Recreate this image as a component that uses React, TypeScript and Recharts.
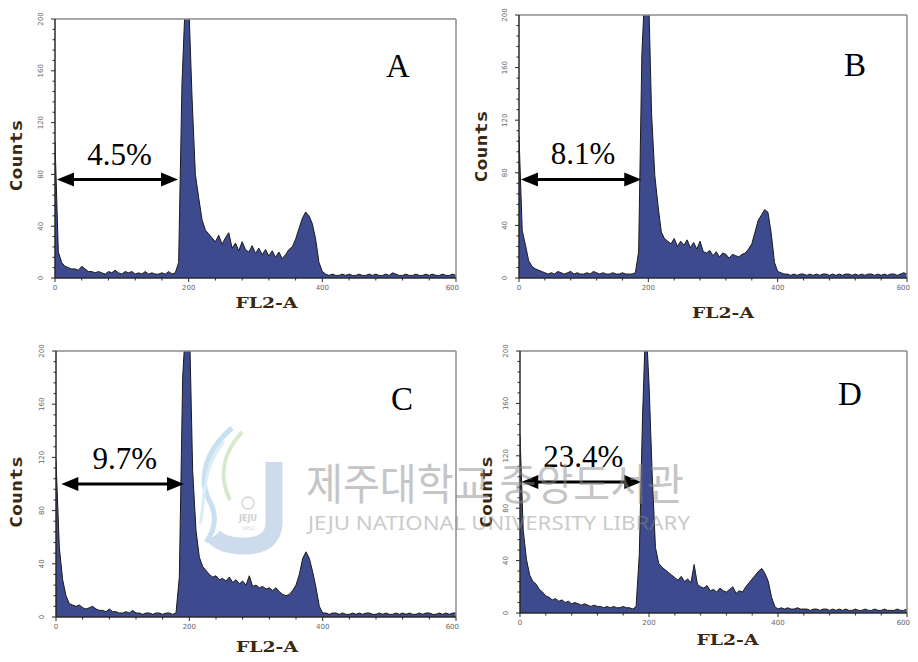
import { AreaChart, Area, XAxis, YAxis, ReferenceLine } from 'recharts'

// FL2-A histograms, one count per 5-channel bin from 0 to 600
const BIN = 5

const countsA = [
  105, 20, 12, 9, 8, 7, 7, 6, 9, 7,
  5, 5, 4, 5, 4, 3, 5, 4, 6, 4,
  3, 5, 4, 5, 3, 4, 3, 5, 3, 4,
  3, 3, 4, 3, 5, 3, 4, 12, 150, 215,
  215, 140, 80, 62, 45, 37, 34, 31, 28, 33,
  26, 31, 35, 23, 27, 21, 28, 22, 20, 25,
  19, 23, 18, 22, 17, 21, 16, 20, 15, 18,
  22, 24, 30, 38, 46, 51, 48, 42, 30, 12,
  5, 3, 2, 3, 2, 2, 3, 2, 3, 2,
  2, 3, 2, 2, 3, 2, 3, 2, 2, 3,
  2, 4, 3, 2, 2, 3, 2, 2, 3, 2,
  2, 3, 2, 3, 2, 2, 3, 2, 2, 3,
  2,
]

const countsB = [
  108, 36, 25, 13, 9, 7, 6, 5, 4, 3,
  4, 3, 5, 4, 3, 4, 5, 3, 4, 3,
  3, 4, 3, 5, 4, 3, 4, 3, 3, 4,
  3, 3, 4, 3, 3, 3, 4, 20, 170, 225,
  225, 125, 78, 55, 35, 30, 28, 26, 30, 24,
  28, 25, 29, 23, 27, 22, 28, 20, 19, 21,
  17, 20, 16, 19, 18, 15, 18, 17, 16, 18,
  19, 22, 26, 35, 44, 48, 52, 50, 34, 12,
  5, 4, 3, 3, 2, 3, 2, 3, 3, 2,
  3, 2, 3, 2, 3, 3, 2, 3, 2, 3,
  2, 3, 3, 2, 3, 2, 3, 2, 3, 3,
  2, 3, 2, 3, 2, 3, 3, 2, 3, 4,
  3,
]

const countsC = [
  118, 52, 28, 16, 10, 9, 8, 9, 7, 6,
  7, 8, 6, 5, 5, 4, 6, 4, 4, 3,
  3, 4, 3, 5, 3, 3, 2, 3, 3, 2,
  3, 3, 2, 3, 3, 2, 3, 30, 180, 225,
  225, 110, 65, 45, 38, 35, 32, 30, 31, 28,
  29, 27, 30, 26, 28, 25, 27, 24, 31, 23,
  24, 22, 23, 21, 22, 20, 22, 19, 17, 16,
  17, 20, 24, 32, 44, 49, 44, 34, 22, 8,
  3, 3, 2, 3, 3, 2, 3, 2, 2, 3,
  2, 3, 2, 3, 3, 2, 2, 3, 2, 3,
  2, 2, 3, 2, 3, 2, 3, 2, 2, 3,
  2, 3, 3, 2, 2, 3, 2, 3, 2, 3,
  3,
]

const countsD = [
  136, 63, 41, 29, 24, 22, 18, 16, 13, 12,
  10, 11, 9, 10, 8, 9, 7, 8, 7, 6,
  7, 6, 5, 6, 5, 5, 4, 5, 4, 5,
  4, 4, 5, 4, 4, 3, 5, 45, 150, 225,
  175, 105, 50, 38, 35, 33, 31, 29, 27, 25,
  28, 24, 26, 23, 37, 22, 20, 19, 21, 17,
  18, 16, 19, 17, 16, 18, 20, 15, 17, 16,
  20, 23, 26, 29, 32, 34, 30, 24, 12, 5,
  3, 4, 3, 4, 3, 3, 4, 3, 3, 3,
  2, 3, 3, 2, 3, 3, 2, 3, 2, 3,
  2, 3, 2, 2, 3, 2, 2, 3, 2, 2,
  3, 2, 2, 3, 2, 2, 2, 3, 2, 2,
  3,
]

const panelLetters = ['A', 'B', 'C', 'D']
const subG1Labels = ['4.5%', '8.1%', '9.7%', '23.4%']
// double arrow: start / end channel and the count level it sits at
const arrowFrom = [3, 3, 8, 2]
const arrowTo = [184, 189, 192, 188]
const arrowLevel = [76, 75, 100, 100]

const xTicks = [0, 40, 80, 120, 160, 200, 240, 280, 320, 360, 400, 440, 480, 520, 560, 600]
const yTicks = [
  0, 8, 16, 24, 32, 40, 48, 56, 64, 72, 80, 88, 96, 104, 112, 120,
  128, 136, 144, 152, 160, 168, 176, 184, 192, 200,
]

const allCounts = [countsA, countsB, countsC, countsD]

// where each panel sits on the page and how its titles are nudged
const panels = [
  { left: 0, top: 0, margin: { top: 19, right: 4, bottom: 22, left: 25 }, cdx: -38, cdy: 7, xdx: 11, xdy: 25, lx: 398, ly: 77 },
  { left: 460, top: 0, margin: { top: 15, right: 13, bottom: 22, left: 29 }, cdx: -37, cdy: 0, xdx: 10, xdy: 35, lx: 855, ly: 76 },
  { left: 0, top: 330, margin: { top: 21, right: 4, bottom: 13, left: 26 }, cdx: -39, cdy: 8, xdx: 11, xdy: 30, lx: 402, ly: 410 },
  { left: 460, top: 330, margin: { top: 21, right: 13, bottom: 17, left: 30 }, cdx: -33, cdy: 10, xdx: 14, xdy: 27, lx: 850, ly: 405 },
]

const FILL = '#3d4a8d'
const AXIS = '#2a2a2a'
const FRAME = '#8c8c8c'
const TITLE = '#3a2810'

function XTick({ x, y, payload }: any) {
  const major = payload.value % 200 === 0
  const last = payload.value === 600
  return (
    <g>
      <line x1={x} x2={x} y1={y} y2={y + (major ? 4 : 2.5)} stroke={AXIS} strokeWidth={1} />
      {major && (
        <text
          x={last ? x + 3 : x}
          y={y + 12}
          textAnchor={last ? 'end' : 'middle'}
          fontFamily="DejaVu Sans"
          fontSize={7}
          fill="#666"
        >
          {payload.value}
        </text>
      )}
    </g>
  )
}

function YTick({ x, y, payload }: any) {
  const major = payload.value % 40 === 0
  return (
    <g>
      <line x1={x} x2={x - (major ? 4 : 2.5)} y1={y} y2={y} stroke={AXIS} strokeWidth={1} />
      {major && (
        <text
          transform={`translate(${x - 14},${y}) rotate(-90)`}
          textAnchor="middle"
          dominantBaseline="central"
          fontFamily="DejaVu Sans"
          fontSize={7}
          fill="#666"
        >
          {payload.value}
        </text>
      )}
    </g>
  )
}

function DoubleArrow({ x1, y1, x2, text }: any) {
  const head = 17
  const half = 7
  return (
    <g>
      <line x1={x1 + head - 2} y1={y1} x2={x2 - head + 2} y2={y1} stroke="#000" strokeWidth={3} />
      <polygon points={`${x1},${y1} ${x1 + head},${y1 - half} ${x1 + head},${y1 + half}`} fill="#000" />
      <polygon points={`${x2},${y1} ${x2 - head},${y1 - half} ${x2 - head},${y1 + half}`} fill="#000" />
      <text
        x={(x1 + x2) / 2 + 2}
        y={y1 - 15}
        textAnchor="middle"
        fontFamily="Liberation Serif"
        fontSize={31}
        fill="#000"
      >
        {text}
      </text>
    </g>
  )
}

function Histogram({ idx }: { idx: number }) {
  const p = panels[idx]
  const rows = allCounts[idx].map((c, i) => ({ ch: i * BIN, count: c }))
  return (
    <div style={{ position: 'absolute', left: p.left, top: p.top }}>
      <AreaChart width={460} height={330} data={rows} margin={p.margin}>
        <XAxis
          type="number"
          dataKey="ch"
          domain={[0, 600]}
          ticks={xTicks}
          interval={0}
          allowDataOverflow
          height={30}
          tickSize={0}
          tickMargin={0}
          tickLine={false}
          tick={XTick}
          axisLine={{ stroke: AXIS, strokeWidth: 1.5 }}
          label={{
            content: ({ viewBox }: any) => (
              <text
                x={viewBox.x + viewBox.width / 2 + p.xdx}
                y={viewBox.y + p.xdy}
                textAnchor="middle"
                dominantBaseline="central"
                fontFamily="DejaVu Serif"
                fontWeight="bold"
                fontSize={15}
                textLength={62}
                lengthAdjust="spacingAndGlyphs"
                fill={TITLE}
              >
                FL2-A
              </text>
            ),
          }}
        />
        <YAxis
          type="number"
          domain={[0, 200]}
          ticks={yTicks}
          interval={0}
          allowDataOverflow
          width={30}
          tickSize={0}
          tickMargin={0}
          tickLine={false}
          tick={YTick}
          axisLine={{ stroke: AXIS, strokeWidth: 1.5 }}
          label={{
            content: ({ viewBox }: any) => {
              const cx = viewBox.x + viewBox.width + p.cdx
              const cy = viewBox.y + viewBox.height / 2 + p.cdy
              return (
                <text
                  transform={`translate(${cx},${cy}) rotate(-90)`}
                  textAnchor="middle"
                  dominantBaseline="central"
                  fontFamily="DejaVu Sans Mono"
                  fontWeight="bold"
                  fontSize={15}
                  textLength={72}
                  lengthAdjust="spacingAndGlyphs"
                  fill={TITLE}
                >
                  Counts
                </text>
              )
            },
          }}
        />
        <Area
          type="linear"
          dataKey="count"
          stroke="#1b1b1b"
          strokeWidth={1}
          fill={FILL}
          fillOpacity={1}
          dot={false}
          activeDot={false}
          isAnimationActive={false}
        />
        <ReferenceLine y={200} stroke={FRAME} strokeWidth={1.5} />
        <ReferenceLine x={600} stroke={FRAME} strokeWidth={1.5} />
        <ReferenceLine
          segment={[
            { x: arrowFrom[idx], y: arrowLevel[idx] },
            { x: arrowTo[idx], y: arrowLevel[idx] },
          ]}
          shape={(sp: any) => <DoubleArrow {...sp} text={subG1Labels[idx]} />}
        />
      </AreaChart>
    </div>
  )
}

function Overlay() {
  return (
    <svg
      width={918}
      height={662}
      style={{ position: 'absolute', left: 0, top: 0, pointerEvents: 'none' }}
    >
      {panels.map((p, i) => (
        <text key={i} x={p.lx} y={p.ly} textAnchor="middle" fontFamily="Liberation Serif" fontSize={33} fill="#000">
          {panelLetters[i]}
        </text>
      ))}
      {/* library watermark */}
      <g opacity={0.55}>
        <path d="M 232 428 C 204 452, 198 480, 210 502 C 218 517, 214 532, 206 542" fill="none" stroke="#9cc8e2" strokeWidth={5} />
        <path d="M 242 432 C 220 456, 220 480, 230 500" fill="none" stroke="#b3d9a6" strokeWidth={4} />
        <path d="M 224 442 C 200 470, 206 500, 200 524" fill="none" stroke="#bfe0ef" strokeWidth={3} />
        <path d="M 274 462 L 274 522 Q 274 546 244 546 Q 222 546 214 536" fill="none" stroke="#a5bfe0" strokeWidth={17} />
        <circle cx={248} cy={503} r={6} fill="none" stroke="#b8b8b8" strokeWidth={1.5} />
        <text x={248} y={521} textAnchor="middle" fontFamily="DejaVu Sans" fontWeight="bold" fontSize={8} fill="#a8a8a8">JEJU</text>
        <text x={248} y={530} textAnchor="middle" fontFamily="DejaVu Sans" fontSize={5} fill="#b0b0b0">1952</text>
      </g>
      <text
        x={306}
        y={500}
        fontFamily="Noto Sans CJK KR"
        fontSize={43}
        textLength={378}
        lengthAdjust="spacingAndGlyphs"
        fill="#8c8c8c"
        opacity={0.5}
      >
        제주대학교 중앙도서관
      </text>
      <text
        x={308}
        y={530}
        fontFamily="Noto Sans"
        fontSize={20}
        textLength={382}
        lengthAdjust="spacingAndGlyphs"
        fill="#8c8c8c"
        opacity={0.45}
      >
        JEJU NATIONAL UNIVERSITY LIBRARY
      </text>
    </svg>
  )
}

export default function App() {
  return (
    <div style={{ position: 'absolute', left: 0, top: 0, width: 918, height: 662, background: '#fff' }}>
      {panels.map((_, i) => (
        <Histogram key={i} idx={i} />
      ))}
      <Overlay />
    </div>
  )
}
